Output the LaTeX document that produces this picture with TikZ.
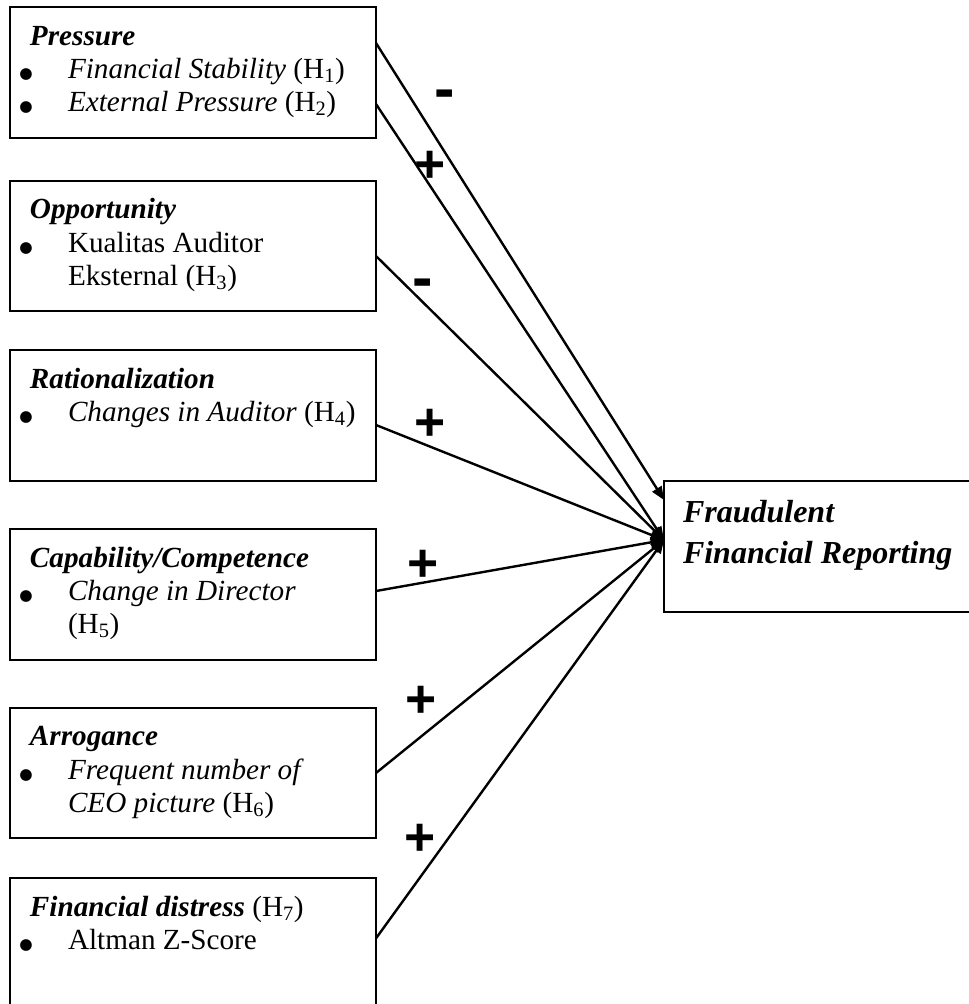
\documentclass[tikz,border=0pt]{standalone}
\usepackage{fontspec}
\setmainfont{Liberation Serif}
\newfontfamily\signfont{Liberation Sans}
\newfontfamily\dotfont{DejaVu Sans}
\usetikzlibrary{positioning}
\usetikzlibrary{arrows.meta}
\newcommand{\itm}{\hspace*{-3pt}\makebox[0pt][c]{\dotfont\fontsize{11.5}{11.5}\selectfont ●}\hspace*{31.5pt}}
\newcommand{\ind}{\hspace*{28.5pt}}
\newcommand{\boxtxt}[1]{\parbox[t][98pt][t]{244.5pt}{\raggedright\rule{0pt}{28.5pt}#1}}
\newcommand{\outtxt}[1]{\parbox[t][98pt][t]{219pt}{\raggedright\rule{0pt}{30.75pt}#1}}
\tikzset{
    mybox/.style = {rectangle, draw=black, line width=1.5pt, inner xsep=15pt, inner ysep=0pt, outer sep=0pt, anchor=north west, font=\fontsize{21.9}{25}\selectfont},
    myboxo/.style = {rectangle, draw=black, line width=1.5pt, inner xsep=14.25pt, inner ysep=0pt, outer sep=0pt, anchor=north west, font=\fontsize{24}{30.75}\selectfont\bfseries\itshape},
    mysignp/.style = {anchor=base, inner sep=0pt, font=\signfont\bfseries\fontsize{40}{40}\selectfont},
    mysignm/.style = {anchor=base, inner sep=0pt, font=\signfont\bfseries\fontsize{46}{46}\selectfont},
    edgea/.style = {-{Triangle[length=10pt,width=8pt]}, line width=1.8pt, black}
}

\begin{document}
\begin{tikzpicture}[x=0.75pt, y=-0.75pt]
  \useasboundingbox (0,0) rectangle (969,1004);
  \clip (0,0) rectangle (969,1004);
  % left column
  \node[mybox] (press) at (10,7) {\boxtxt{\textbf{\textit{Pressure}}\\
    \itm\textit{Financial Stability} (H\textsubscript{1})\\
    \itm\textit{External Pressure} (H\textsubscript{2})}};
  \node[mybox, below=32.25pt of press] (oppo) {\boxtxt{\textbf{\textit{Opportunity}}\\
    \itm Kualitas Auditor\\
    \ind Eksternal (H\textsubscript{3})}};
  \node[mybox, below=29.25pt of oppo] (ratio) {\boxtxt{\textbf{\textit{Rationalization}}\\
    \itm\textit{Changes in Auditor} (H\textsubscript{4})}};
  \node[mybox, below=36pt of ratio] (capab) {\boxtxt{\textbf{\textit{Capability/Competence}}\\
    \itm\textit{Change in Director}\\
    \ind(H\textsubscript{5})}};
  \node[mybox, below=36pt of capab] (arrog) {\boxtxt{\textbf{\textit{Arrogance}}\\
    \itm\textit{Frequent number of}\\
    \ind\textit{CEO picture} (H\textsubscript{6})}};
  \node[mybox, below=30pt of arrog] (distr) {\boxtxt{\textbf{\textit{Financial distress}} (H\textsubscript{7})\\
    \itm Altman Z-Score}};
  % right box
  \node[myboxo] (frd) at (664,481) {\outtxt{Fraudulent\\Financial Reporting}};
  \coordinate[below=14.25pt of frd.north west] (hitA);
  \coordinate[below=44.25pt of frd.north west] (hitB);
  % arrows
  \draw[edgea] ([yshift=22pt]press.east) -- (hitA);
  \draw[edgea] ([yshift=-23.75pt]press.east) -- (hitB);
  \draw[edgea] ([yshift=-7.5pt]oppo.east) -- (hitB);
  \draw[edgea] ([yshift=-7pt]ratio.east) -- (hitB);
  \draw[edgea] ([yshift=2.5pt]capab.east) -- (hitB);
  \draw[edgea] (arrog.east) -- (hitB);
  \draw[edgea] ([yshift=4pt]distr.east) -- (hitB);
  % signs
  \node[mysignm] (sgn1) at (445,109) {-};
  \node[mysignp] (sgn2) at (430,182) {+};
  \node[mysignm] (sgn3) at (423,298) {-};
  \node[mysignp] (sgn4) at (430,440) {+};
  \node[mysignp] (sgn5) at (423,581) {+};
  \node[mysignp] (sgn6) at (421,717) {+};
  \node[mysignp] (sgn7) at (420,855) {+};
\end{tikzpicture}
\end{document}
